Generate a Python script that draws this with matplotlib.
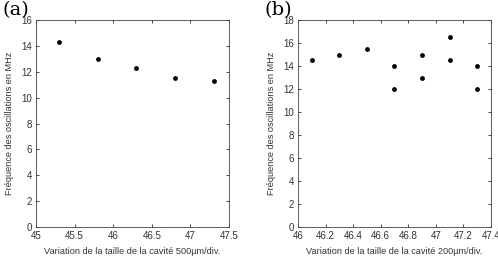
import matplotlib.pyplot as plt

# panel (a)
xa = [45.3, 45.8, 46.3, 46.8, 47.3]
ya = [14.3, 13.0, 12.3, 11.5, 11.3]
xa_ticks = [45, 45.5, 46, 46.5, 47, 47.5]
ya_ticks = [0, 2, 4, 6, 8, 10, 12, 14, 16]

# panel (b)
xb = [46.1, 46.3, 46.5, 46.7, 46.7, 46.9, 46.9, 47.1, 47.1, 47.3, 47.3]
yb = [14.5, 15.0, 15.5, 14.0, 12.0, 15.0, 13.0, 16.5, 14.5, 14.0, 12.0]
xb_ticks = [46, 46.2, 46.4, 46.6, 46.8, 47, 47.2, 47.4]
yb_ticks = [0, 2, 4, 6, 8, 10, 12, 14, 16, 18]

plt.rcParams['font.family'] = ['Liberation Sans', 'DejaVu Sans']
fig = plt.figure(figsize=(4.98, 2.56), dpi=100)
W, H = 498, 256

def panel(rect, x, y, xt, yt, xlab, tag):
    l, b, r, t = rect
    ax = fig.add_axes([l / W, 1 - b / H, (r - l) / W, (b - t) / H])
    ax.scatter(x, y, s=6, c="black", zorder=3)
    ax.set_xlim(xt[0], xt[-1])
    ax.set_ylim(yt[0], yt[-1])
    ax.set_xticks(xt)
    ax.set_xticklabels([f"{v:g}" for v in xt])
    ax.set_yticks(yt)
    ax.tick_params(direction="in", top=True, right=True, length=2.5, width=0.5,
                   labelsize=7, labelcolor="#333333", pad=3)
    for s in ax.spines.values():
        s.set_linewidth(0.6)
        s.set_color("#444444")
    ax.set_xlabel(xlab, fontsize=6.6, color="#333333", labelpad=4)
    ax.set_ylabel("Fréquence des oscillations en MHz", fontsize=6.6, color="#333333", labelpad=5)
    fig.text((l - 33) / W, 1 - 10 / H, tag, fontsize=14, family="DejaVu Serif",
             va="center", ha="left")
    return ax

panel((36, 227, 229, 20), xa, ya, xa_ticks, ya_ticks,
      "Variation de la taille de la cavité 500µm/div.", "(a)")
axb = panel((298, 227, 491, 20), xb, yb, xb_ticks, yb_ticks,
            "Variation de la taille de la cavité 200µm/div.", "(b)")
for lbl in axb.get_xticklabels():
    lbl.set_clip_on(False)

fig.savefig("out.png", dpi=100)
